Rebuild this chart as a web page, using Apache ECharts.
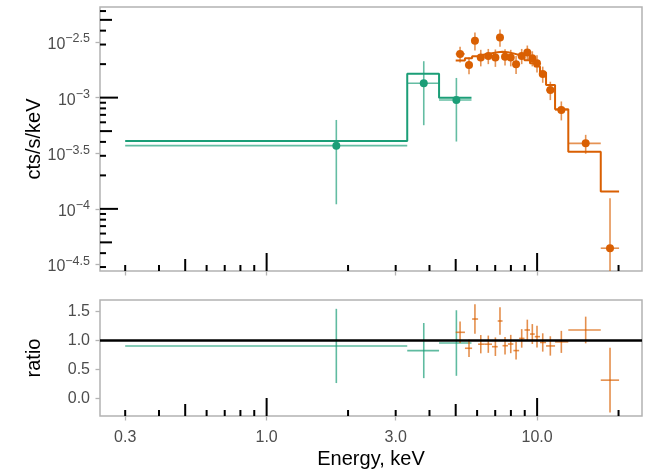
<!DOCTYPE html>
<html>
<head>
<meta charset="utf-8">
<title>Spectrum and ratio</title>
<script src="https://cdn.jsdelivr.net/npm/echarts@6/dist/echarts.min.js"></script>
<style>
  html, body { margin: 0; padding: 0; background: #ffffff; }
  #chart { width: 659px; height: 471px; }
</style>
</head>
<body>
<div id="chart"></div>
<script>
// Binned X-ray spectrum from two instruments: count rate per keV with the
// folded model (top) and the data/model ratio (bottom).

// Soft instrument (green)
const softEdges    = [0.3, 3.31, 4.34, 5.72];
const softEnergy   = [1.81, 3.81, 5.03];
const softRate     = [3.70e-4, 1.345e-3, 9.53e-4];
const softRateErr  = [2.6e-4, 7.8e-4, 5.5e-4];
const softModel    = [4.07e-4, 1.64e-3, 9.98e-4];
const softRatio    = [0.91, 0.83, 0.96];
const softRatioErr = [0.64, 0.475, 0.565];

// Hard instrument (orange)
const hardEdges    = [5.0, 5.41, 5.75, 6.05, 6.39, 6.81, 7.15, 7.45, 7.8, 8.17, 8.58, 8.98,
                      9.41, 9.8, 10.25, 10.79, 11.65, 13.04, 17.19, 20.09];
const hardEnergy   = [5.19, 5.60, 5.89, 6.19, 6.60, 7.01, 7.29, 7.61, 7.99, 8.36, 8.77, 9.20,
                      9.60, 9.99, 10.49, 11.19, 12.29, 15.12, 18.60];
const hardRate     = [2.47e-3, 1.96e-3, 3.25e-3, 2.30e-3, 2.37e-3, 2.30e-3, 3.48e-3, 2.33e-3,
                      2.30e-3, 2.00e-3, 2.37e-3, 2.55e-3, 2.26e-3, 2.04e-3, 1.63e-3, 1.17e-3,
                      7.74e-4, 3.88e-4, 4.43e-5];
const hardRateErr  = [4.0e-4, 3.4e-4, 6.0e-4, 3.9e-4, 3.7e-4, 4.1e-4, 6.1e-4, 3.9e-4, 3.9e-4,
                      3.7e-4, 3.7e-4, 3.9e-4, 3.5e-4, 3.6e-4, 2.7e-4, 2.2e-4, 1.5e-4, 7.5e-5, 8.0e-5];
const hardModel    = [2.16e-3, 2.26e-3, 2.36e-3, 2.44e-3, 2.51e-3, 2.56e-3, 2.58e-3, 2.56e-3,
                      2.50e-3, 2.42e-3, 2.30e-3, 2.17e-3, 2.04e-3, 1.90e-3, 1.68e-3, 1.30e-3,
                      7.85e-4, 3.27e-4, 1.43e-4];
const hardRatio    = [1.145, 0.87, 1.374, 0.94, 0.94, 0.897, 1.34, 0.914, 0.943, 0.83, 1.04, 1.185,
                      1.115, 1.07, 0.97, 0.91, 0.98, 1.185, 0.32];
const hardRatioErr = [0.186, 0.149, 0.253, 0.158, 0.149, 0.16, 0.238, 0.152, 0.158, 0.152, 0.16,
                      0.178, 0.172, 0.187, 0.158, 0.167, 0.19, 0.23, 0.557];

// Axis ranges and labelled ticks
const energyRange = [0.2421, 24.42];
const rateRange   = [2.764e-5, 6.526e-3];
const ratioRange  = [-0.298, 1.702];
const energyTicks = [0.3, 1, 3, 10];
const rateTicks   = [3.1623e-5, 1e-4, 3.1623e-4, 1e-3, 3.1623e-3];
const ratioTicks  = [0, 0.5, 1, 1.5];

// Logarithmic minor ticks along the axes
const energyLogTicks = [0.3, 0.4, 0.5, 0.6, 0.7, 0.8, 0.9, 1, 2, 3, 4, 5, 6, 7, 8, 9, 10, 20];
const rateLogTicks   = [3e-5, 4e-5, 5e-5, 6e-5, 7e-5, 8e-5, 9e-5,
                        1e-4, 2e-4, 3e-4, 4e-4, 5e-4, 6e-4, 7e-4, 8e-4, 9e-4,
                        1e-3, 2e-3, 3e-3, 4e-3, 5e-3, 6e-3];

const GREEN = '#1b9e77';
const ORANGE = '#d95f02';
const FONT = '"Liberation Sans", Arial, Helvetica, sans-serif';
const LABEL_GREY = '#4d4d4d';
const FRAME_GREY = '#b3b3b3';

function fade(hex, a) {
  const n = parseInt(hex.slice(1), 16);
  return 'rgba(' + (n >> 16) + ',' + ((n >> 8) & 255) + ',' + (n & 255) + ',' + a + ')';
}

// rows: [energy, value, error, binLow, binHigh]
function rows(energy, value, err, edges) {
  return energy.map((e, i) => [e, value[i], err[i], edges[i], edges[i + 1]]);
}

// step outline of a binned model
function stepLine(edges, model) {
  const pts = [];
  model.forEach((m, i) => { pts.push([edges[i], m]); pts.push([edges[i + 1], m]); });
  return pts;
}

function crossRenderer(color, floor) {
  return function (params, api) {
    const x = api.value(0), y = api.value(1), e = api.value(2);
    const lo = api.value(3), hi = api.value(4);
    const low = (floor !== null && y - e <= floor) ? floor : y - e;
    const top = api.coord([x, y + e]);
    const bot = api.coord([x, low]);
    const left = api.coord([lo, y]);
    const right = api.coord([hi, y]);
    const style = { stroke: color, lineWidth: 1.6, fill: null };
    return {
      type: 'group',
      children: [
        { type: 'line', shape: { x1: top[0], y1: top[1], x2: bot[0], y2: bot[1] }, style: style },
        { type: 'line', shape: { x1: left[0], y1: left[1], x2: right[0], y2: right[1] }, style: style }
      ]
    };
  };
}

function tickLength(v) {
  const m = Math.round(v / Math.pow(10, Math.floor(Math.log10(v) + 1e-9)));
  return m === 1 ? 18 : (m === 5 ? 12 : 6);
}

// minor ticks rising from the bottom edge of a panel
function bottomTicks(params, api) {
  const cs = params.coordSys;
  const x = api.coord([api.value(0), api.value(1)])[0];
  const yb = cs.y + cs.height;
  return { type: 'line', shape: { x1: x, y1: yb, x2: x, y2: yb - tickLength(api.value(0)) },
           style: { stroke: '#000', lineWidth: 2 } };
}

// minor ticks pointing in from the left edge of a panel
function leftTicks(params, api) {
  const cs = params.coordSys;
  const y = api.coord([api.value(0), api.value(1)])[1];
  return { type: 'line', shape: { x1: cs.x, y1: y, x2: cs.x + tickLength(api.value(1)), y2: y },
           style: { stroke: '#000', lineWidth: 2 } };
}

function powLabel(v) {
  const e = Math.round(Math.log10(v) * 2) / 2;
  const s = (e < 0 ? '\u2212' : '') + String(Math.abs(e));
  return '{b|10}{s|' + s + '}';
}

const chart = echarts.init(document.getElementById('chart'), null, { renderer: 'canvas', width: 659, height: 471 });

const frame = { show: true, borderColor: FRAME_GREY, borderWidth: 1.5, backgroundColor: '#ffffff', containLabel: false };
const greyTick = { show: true, length: 4.5, lineStyle: { color: FRAME_GREY, width: 1.3 } };
const noLine = { show: false, onZero: false };
const titleText = { color: '#000000', fontSize: 20, fontFamily: FONT };

chart.setOption({
  animation: false,
  backgroundColor: '#ffffff',
  textStyle: { fontFamily: FONT },
  grid: [
    Object.assign({ left: 100, top: 7, width: 542, height: 264 }, frame),
    Object.assign({ left: 100, top: 300, width: 542, height: 116 }, frame)
  ],
  xAxis: [
    {
      gridIndex: 0, type: 'log', logBase: 10, min: energyRange[0], max: energyRange[1],
      axisLine: noLine,
      axisTick: Object.assign({ customValues: energyTicks }, greyTick),
      axisLabel: { show: false, customValues: energyTicks },
      splitLine: { show: false }
    },
    {
      gridIndex: 1, type: 'log', logBase: 10, min: energyRange[0], max: energyRange[1],
      axisLine: noLine,
      axisTick: Object.assign({ customValues: energyTicks }, greyTick),
      axisLabel: {
        customValues: energyTicks, color: LABEL_GREY, fontSize: 16, margin: 14,
        fontFamily: FONT, formatter: v => Number(v).toFixed(1)
      },
      splitLine: { show: false },
      name: 'Energy, keV', nameLocation: 'middle', nameGap: 33, nameMoveOverlap: false,
      nameTextStyle: titleText
    }
  ],
  yAxis: [
    {
      gridIndex: 0, type: 'log', logBase: 10, min: rateRange[0], max: rateRange[1],
      axisLine: noLine,
      axisTick: Object.assign({ customValues: rateTicks }, greyTick),
      axisLabel: {
        customValues: rateTicks, margin: 10, formatter: powLabel, padding: [1, 0, 0, 0],
        rich: {
          b: { fontSize: 16, color: LABEL_GREY, fontFamily: FONT, lineHeight: 20, verticalAlign: 'bottom' },
          s: { fontSize: 12.5, color: LABEL_GREY, fontFamily: FONT, lineHeight: 12, verticalAlign: 'top' }
        }
      },
      splitLine: { show: false },
      name: 'cts/s/keV', nameLocation: 'middle', nameRotate: 90, nameGap: 56, nameMoveOverlap: false,
      nameTextStyle: titleText
    },
    {
      gridIndex: 1, type: 'value', min: ratioRange[0], max: ratioRange[1],
      axisLine: noLine,
      axisTick: Object.assign({ customValues: ratioTicks }, greyTick),
      axisLabel: {
        customValues: ratioTicks, color: LABEL_GREY, fontSize: 16, margin: 10,
        fontFamily: FONT, formatter: v => Number(v).toFixed(1)
      },
      splitLine: { show: false },
      name: 'ratio', nameLocation: 'middle', nameRotate: 90, nameGap: 56, nameMoveOverlap: false,
      nameTextStyle: titleText
    }
  ],
  series: [
    // log ticks
    { type: 'custom', xAxisIndex: 0, yAxisIndex: 0, renderItem: bottomTicks, silent: true, clip: false, z: 1,
      data: energyLogTicks.map(v => [v, rateRange[0]]) },
    { type: 'custom', xAxisIndex: 0, yAxisIndex: 0, renderItem: leftTicks, silent: true, clip: false, z: 1,
      data: rateLogTicks.map(v => [energyRange[0], v]) },
    { type: 'custom', xAxisIndex: 1, yAxisIndex: 1, renderItem: bottomTicks, silent: true, clip: false, z: 1,
      data: energyLogTicks.map(v => [v, ratioRange[0]]) },

    // spectrum panel
    { type: 'custom', name: 'soft data', xAxisIndex: 0, yAxisIndex: 0, z: 2, clip: true,
      renderItem: crossRenderer(fade(GREEN, 0.68), rateRange[0]),
      data: rows(softEnergy, softRate, softRateErr, softEdges) },
    { type: 'custom', name: 'hard data', xAxisIndex: 0, yAxisIndex: 0, z: 2, clip: true,
      renderItem: crossRenderer(fade(ORANGE, 0.68), rateRange[0]),
      data: rows(hardEnergy, hardRate, hardRateErr, hardEdges) },
    { type: 'line', name: 'soft model', xAxisIndex: 0, yAxisIndex: 0, z: 3, showSymbol: false, symbol: 'none',
      lineStyle: { color: GREEN, width: 2 }, data: stepLine(softEdges, softModel) },
    { type: 'line', name: 'hard model', xAxisIndex: 0, yAxisIndex: 0, z: 3, showSymbol: false, symbol: 'none',
      lineStyle: { color: ORANGE, width: 2 }, data: stepLine(hardEdges, hardModel) },
    { type: 'scatter', xAxisIndex: 0, yAxisIndex: 0, z: 4, symbolSize: 8,
      itemStyle: { color: GREEN, opacity: 1 }, data: softEnergy.map((e, i) => [e, softRate[i]]) },
    { type: 'scatter', xAxisIndex: 0, yAxisIndex: 0, z: 4, symbolSize: 8,
      itemStyle: { color: ORANGE, opacity: 1 }, data: hardEnergy.map((e, i) => [e, hardRate[i]]) },

    // ratio panel
    { type: 'custom', name: 'soft ratio', xAxisIndex: 1, yAxisIndex: 1, z: 2, clip: true,
      renderItem: crossRenderer(fade(GREEN, 0.7), null),
      data: rows(softEnergy, softRatio, softRatioErr, softEdges) },
    { type: 'custom', name: 'hard ratio', xAxisIndex: 1, yAxisIndex: 1, z: 2, clip: true,
      renderItem: crossRenderer(fade(ORANGE, 0.7), null),
      data: rows(hardEnergy, hardRatio, hardRatioErr, hardEdges) },
    { type: 'line', name: 'unity', xAxisIndex: 1, yAxisIndex: 1, z: 5, data: [],
      markLine: { silent: true, symbol: 'none', label: { show: false }, animation: false,
                  lineStyle: { color: '#000000', width: 2.6, type: 'solid' }, data: [{ yAxis: 1 }] } }
  ]
});
</script>
</body>
</html>
